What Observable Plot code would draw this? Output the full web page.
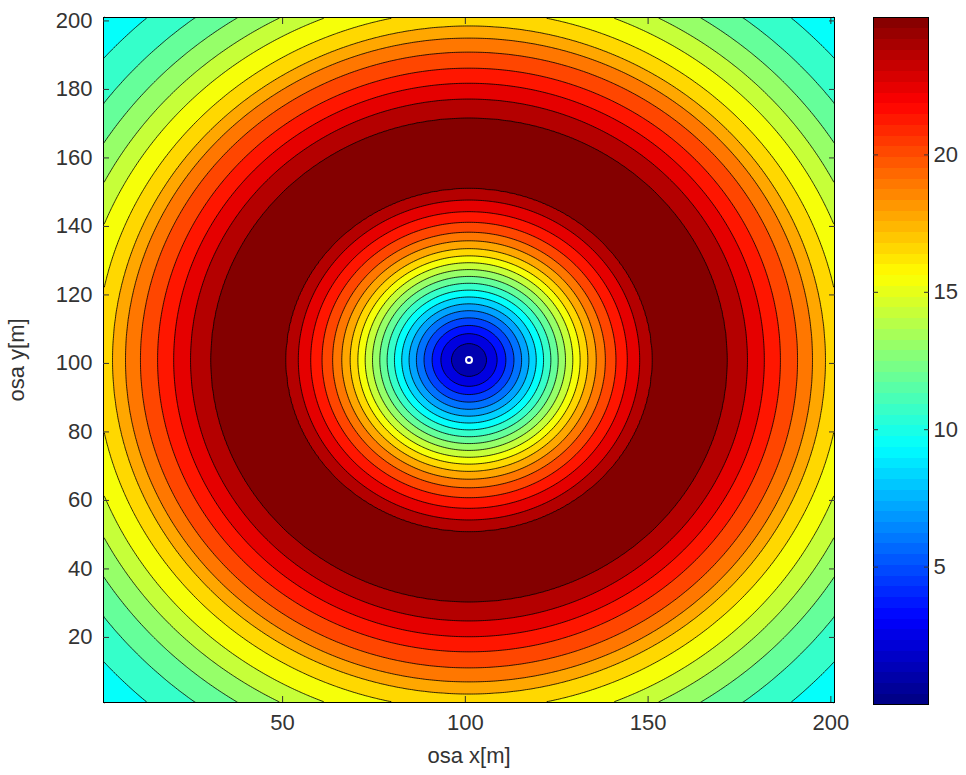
<!DOCTYPE html>
<html><head><meta charset="utf-8">
<script src="https://cdn.jsdelivr.net/npm/d3@7"></script>
<script src="https://cdn.jsdelivr.net/npm/@observablehq/plot@0.6"></script>
<style>
body{margin:0;background:#fff;}
#wrap{position:relative;width:966px;height:775px;background:#fff;}
#main{position:absolute;left:0;top:0;}
#cbar{position:absolute;left:873px;top:0;}
</style></head><body><div id="wrap"><div id="main"></div><div id="cbar"></div></div>
<script>
// Radial profile read from the ring positions (distance from source [m] -> value)
const ringRadius = [0, 4.8, 7.7, 10.1, 12.3, 14.4, 16.4, 18.4, 20.4, 22.4, 24.4, 26.4, 28.4, 30.4, 32.5, 34.8, 37.3, 40.2, 43.3, 46.7, 50, 60, 70.7, 76.2, 80.8, 85.2, 89.9, 94, 97.5, 102, 107.4, 112.5, 118.3, 124.9, 133.2, 142];
const ringValue  = [0, 1.19, 2.37, 3.56, 4.74, 5.93, 7.11, 8.3, 9.49, 10.67, 11.86, 13.04, 14.23, 15.41, 16.6, 17.79, 18.97, 20.16, 21.34, 22.53, 23.71, 24.9, 23.71, 22.53, 21.34, 20.16, 18.97, 17.79, 16.6, 15.41, 14.23, 13.04, 11.86, 10.67, 9.49, 8.6];
// 20 contour levels (plus the base region)
const levels = [0, 1.19, 2.37, 3.56, 4.74, 5.93, 7.11, 8.3, 9.49, 10.67, 11.86, 13.04, 14.23, 15.41, 16.6, 17.79, 18.97, 20.16, 21.34, 22.53, 23.71];
const source = [{x: 101, y: 101}];
const xTicks = [50, 100, 150, 200];
const yTicks = [20, 40, 60, 80, 100, 120, 140, 160, 180, 200];
const cbarTicks = [5, 10, 15, 20];
const jetStops = [0, 3.125, 9.375, 15.625, 21.875, 25];
const jetColors = ["#000080", "#0000ff", "#00ffff", "#ffff00", "#ff0000", "#800000"];

function profile(r) {
  const i = Math.min(d3.bisectRight(ringRadius, r), ringRadius.length - 1);
  const r0 = ringRadius[i - 1], r1 = ringRadius[i];
  const v0 = ringValue[i - 1], v1 = ringValue[i];
  const t = Math.max(0, Math.min(1, (r - r0) / (r1 - r0)));
  return v0 + t * (v1 - v0);
}
// each filled band takes the colour of its upper level (as in the figure)
const step = levels[2] - levels[1];
const bandColor = {type: "linear", domain: jetStops.map(s => s - step), range: jetColors, interpolate: "rgb", clamp: true};
const barColor = {type: "linear", domain: jetStops, range: jetColors, interpolate: "rgb"};
const font = "'Liberation Sans', Arial, sans-serif";

const main = Plot.plot({
  width: 850, height: 775,
  marginLeft: 103, marginRight: 16, marginTop: 17, marginBottom: 73,
  style: {fontFamily: font, fontSize: "22px", color: "#333", background: "white"},
  x: {domain: [1, 201]},
  y: {domain: [1, 201]},
  color: bandColor,
  marks: [
    Plot.contour({
      x1: 1, x2: 201, y1: 1, y2: 201, width: 400, height: 400,
      value: (x, y) => profile(Math.hypot(x - source[0].x, y - source[0].y)),
      thresholds: levels, fill: "value", stroke: "black", strokeWidth: 0.8
    }),
    Plot.dot(source, {x: "x", y: "y", r: 3, stroke: "white", strokeWidth: 2, fill: "none"}),
    Plot.frame({stroke: "black"}),
    Plot.axisX(xTicks, {anchor: "bottom", tickSize: 0, tickPadding: 12, fontSize: 22, label: "osa x[m]", labelAnchor: "center", labelArrow: "none", labelOffset: 60}),
    Plot.axisX(xTicks, {anchor: "bottom", tickSize: -6, tickFormat: () => "", label: null}),
    Plot.axisX(xTicks, {anchor: "top", tickSize: -6, tickFormat: () => "", label: null}),
    Plot.axisY(yTicks, {anchor: "left", tickSize: 0, tickPadding: 11, fontSize: 22, label: "osa y[m]", labelAnchor: "center", labelArrow: "none", labelOffset: 95}),
    Plot.axisY(yTicks, {anchor: "left", tickSize: -6, tickFormat: () => "", label: null}),
    Plot.axisY(yTicks, {anchor: "right", tickSize: -6, tickFormat: () => "", label: null})
  ]
});
document.getElementById("main").appendChild(main);

const cbar = Plot.plot({
  width: 93, height: 775,
  marginLeft: 0, marginRight: 38, marginTop: 17, marginBottom: 71,
  style: {fontFamily: font, fontSize: "22px", color: "#333", background: "transparent"},
  x: {domain: [0, 1], axis: null},
  y: {domain: [0, 25]},
  color: barColor,
  marks: [
    Plot.raster({x1: 0, x2: 1, y1: 0, y2: 25, width: 1, height: 64, fill: (x, y) => y, imageRendering: "pixelated"}),
    Plot.frame({stroke: "black"}),
    Plot.axisY(cbarTicks, {anchor: "right", tickSize: 0, tickPadding: 5, fontSize: 22, label: null}),
    Plot.axisY(cbarTicks, {anchor: "right", tickSize: -5, tickFormat: () => "", label: null}),
    Plot.axisY(cbarTicks, {anchor: "left", tickSize: -5, tickFormat: () => "", label: null})
  ]
});
document.getElementById("cbar").appendChild(cbar);
</script></body></html>
